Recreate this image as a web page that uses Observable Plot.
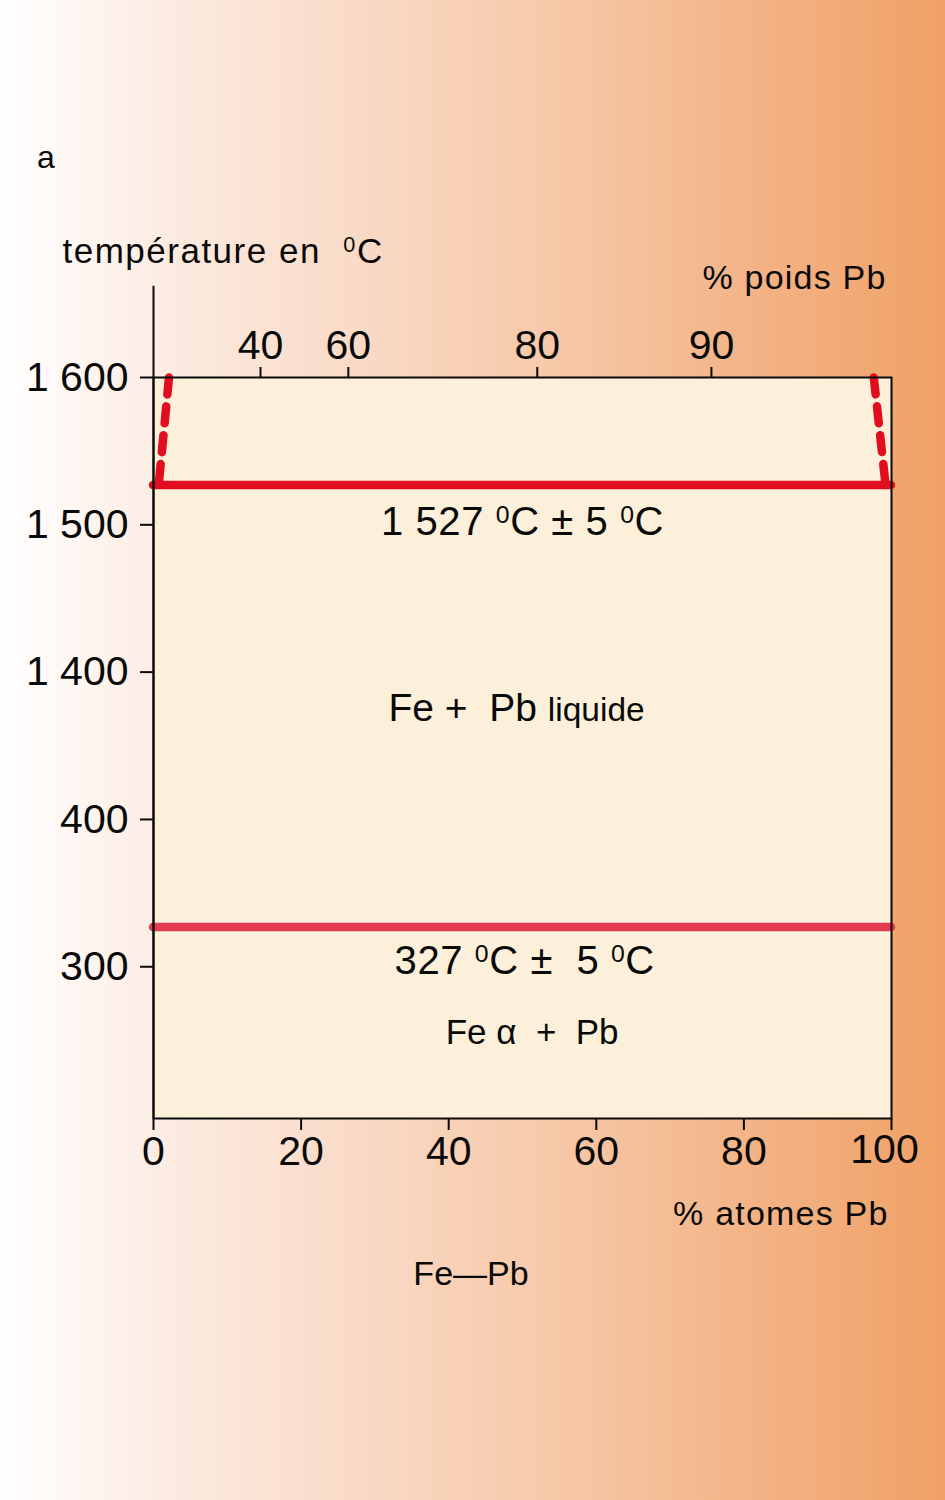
<!DOCTYPE html>
<html>
<head>
<meta charset="utf-8">
<script src="https://cdn.jsdelivr.net/npm/d3@7"></script>
<script src="https://cdn.jsdelivr.net/npm/@observablehq/plot@0.6"></script>
<style>
  body { margin: 0; }
  #page {
    position: relative; width: 945px; height: 1500px; overflow: hidden;
    background: linear-gradient(to right, #ffffff 0%, #fffbf9 4%, #fcebe1 18%, #f9dac6 38%, #f6c7a6 60%, #f3b386 80%, #f0a166 100%);
    font-family: "Liberation Sans", Arial, sans-serif; color: #0a0a0a;
  }
  #chart { position: absolute; left: 0; top: 0; }
  .lbl { position: absolute; white-space: nowrap; line-height: 1; }
</style>
</head>
<body>
<div id="page">
  <div id="chart"></div>
  <div class="lbl" style="left:37px; top:141px; font-size:32px;">a</div>
  <div class="lbl" style="left:471px; top:1256px; font-size:34px; transform:translateX(-50%);">Fe—Pb</div>
</div>
<script>
// ---- data ----
const atomTicks = [0, 20, 40, 60, 80, 100];                 // % atomes Pb (bottom axis)
const weightTickLabels = [40, 60, 80, 90];                  // % poids Pb (top axis)
const weightTickAtoms = [14.5, 26.4, 52.0, 75.6];           // their position in % atomes Pb
const tempTicks = [300, 400, 1400, 1500, 1600];             // °C (broken axis)
const tempTickLabels = ["300", "400", "1 400", "1 500", "1 600"];
const invariantTemps = [1527, 327];                          // horizontal invariant lines, °C
const invariantColors = ["#e10e1f", "#e43a52"];
const liquidusLeftX = [2.1, 0.7];  const liquidusLeftT = [1600, 1527];
const liquidusRightX = [97.6, 99.2]; const liquidusRightT = [1600, 1527];
const annotationText = ["1 527 ⁰C ± 5 ⁰C", "Fe +  Pb liquide", "327 ⁰C ±  5 ⁰C", "Fe α  +  Pb"];
const annotationX = [50.0, 49.2, 50.3, 51.3];
const annotationY = [602, 475, 304, 255];                    // in broken-axis scale units
const annotationSize = [40, 39, 40, 35];

// broken temperature axis: above the break, temperatures are shifted down by 900
const toScale = t => (t >= 1400 ? t - 900 : t);

const leftDash = liquidusLeftX.map((x, i) => ({x, y: toScale(liquidusLeftT[i])}));
const rightDash = liquidusRightX.map((x, i) => ({x, y: toScale(liquidusRightT[i])}));
const invariants = invariantTemps.map((t, i) => ({y: toScale(t), c: invariantColors[i]}));
const annotations = annotationText.map((text, i) => ({text, x: annotationX[i], y: annotationY[i], s: annotationSize[i]}));
const lastAtomTick = atomTicks[atomTicks.length - 1];

const red = "#e10e1f";
const ink = "#0a0a0a";

const plot = Plot.plot({
  width: 945, height: 1500,
  marginLeft: 153, marginRight: 54, marginTop: 377, marginBottom: 382,
  style: {background: "transparent", fontFamily: "Liberation Sans, Arial, sans-serif", color: ink, overflow: "visible"},
  x: {domain: [0, 100]},
  y: {domain: [197, 700]},
  marks: [
    Plot.frame({fill: "#fdf0da", stroke: "none"}),
    // invariant lines
    Plot.ruleY(invariants, {y: "y", stroke: "c", strokeWidth: 8.5, strokeLinecap: "round"}),
    // dashed liquidus/solubility lines
    Plot.line(leftDash, {x: "x", y: "y", stroke: red, strokeWidth: 8.5, strokeDasharray: "17,12"}),
    Plot.line(rightDash, {x: "x", y: "y", stroke: red, strokeWidth: 8.5, strokeDasharray: "17,12"}),
    // frame and extended temperature axis line
    Plot.frame({stroke: ink, strokeWidth: 2}),
    Plot.ruleX([0], {y1: 197, y2: 762, stroke: ink, strokeWidth: 2}),
    // axes
    Plot.axisX(atomTicks, {anchor: "bottom", tickSize: 12, tickPadding: 5, fontSize: 41, strokeWidth: 2, label: null,
      tickFormat: d => (d === lastAtomTick ? "" : String(d))}),
    Plot.text([lastAtomTick], {x: d => d, text: d => String(d), frameAnchor: "bottom", lineAnchor: "top",
      dx: -7, dy: 15, fontSize: 41, fill: ink}),
    Plot.axisX(weightTickAtoms, {anchor: "top", tickSize: 11, tickPadding: 8, fontSize: 41, strokeWidth: 2, label: null,
      tickFormat: d => String(weightTickLabels[weightTickAtoms.indexOf(d)])}),
    Plot.axisY(tempTicks.map(toScale), {anchor: "left", tickSize: 13, tickPadding: 12, fontSize: 41, strokeWidth: 2, label: null,
      tickFormat: d => tempTickLabels[tempTicks.map(toScale).indexOf(d)]}),
    // axis titles
    Plot.text(["température en  ⁰C"], {frameAnchor: "top-left", lineAnchor: "middle", dx: -91, dy: -126, textAnchor: "start", fontSize: 35, fill: ink}),
    Plot.text(["% poids Pb"], {frameAnchor: "top-right", lineAnchor: "middle", dx: -5, dy: -99, textAnchor: "end", fontSize: 34, fill: ink}),
    Plot.text(["% atomes Pb"], {frameAnchor: "bottom-right", lineAnchor: "middle", dx: -3, dy: 96, textAnchor: "end", fontSize: 34, fill: ink}),
    // annotations
    Plot.text(annotations, {x: "x", y: "y", text: "text", fontSize: "s", fill: ink, textAnchor: "middle", lineAnchor: "middle"})
  ]
});

document.getElementById("chart").appendChild(plot);

// rich text: superscript zeros, smaller "liquide", letter spacing on titles
const NS = "http://www.w3.org/2000/svg";
const spaced = new Set(["% poids Pb", "% atomes Pb"]);
plot.querySelectorAll("text").forEach(t => {
  const s = t.textContent;
  if (spaced.has(s)) t.setAttribute("letter-spacing", "1.2");
  if (s.startsWith("température")) t.setAttribute("letter-spacing", "1.5");
  if (s.includes("±")) t.setAttribute("letter-spacing", "0.6");
  if (!s.includes("⁰") && !s.includes("liquide")) return;
  const fs = parseFloat(getComputedStyle(t).fontSize);
  const parts = s.split(/(⁰|liquide)/).filter(p => p !== "");
  t.textContent = "";
  let shift = 0;
  for (const p of parts) {
    const sp = document.createElementNS(NS, "tspan");
    if (p === "⁰") {
      sp.textContent = "0";
      sp.setAttribute("font-size", (fs * 0.62).toFixed(1));
      sp.setAttribute("dy", (-0.3 * fs - shift).toFixed(1));
      shift = -0.3 * fs;
    } else {
      sp.textContent = p;
      if (shift) { sp.setAttribute("dy", (-shift).toFixed(1)); shift = 0; }
      if (p === "liquide") sp.setAttribute("font-size", (fs * 0.86).toFixed(1));
    }
    t.appendChild(sp);
  }
});
</script>
</body>
</html>
